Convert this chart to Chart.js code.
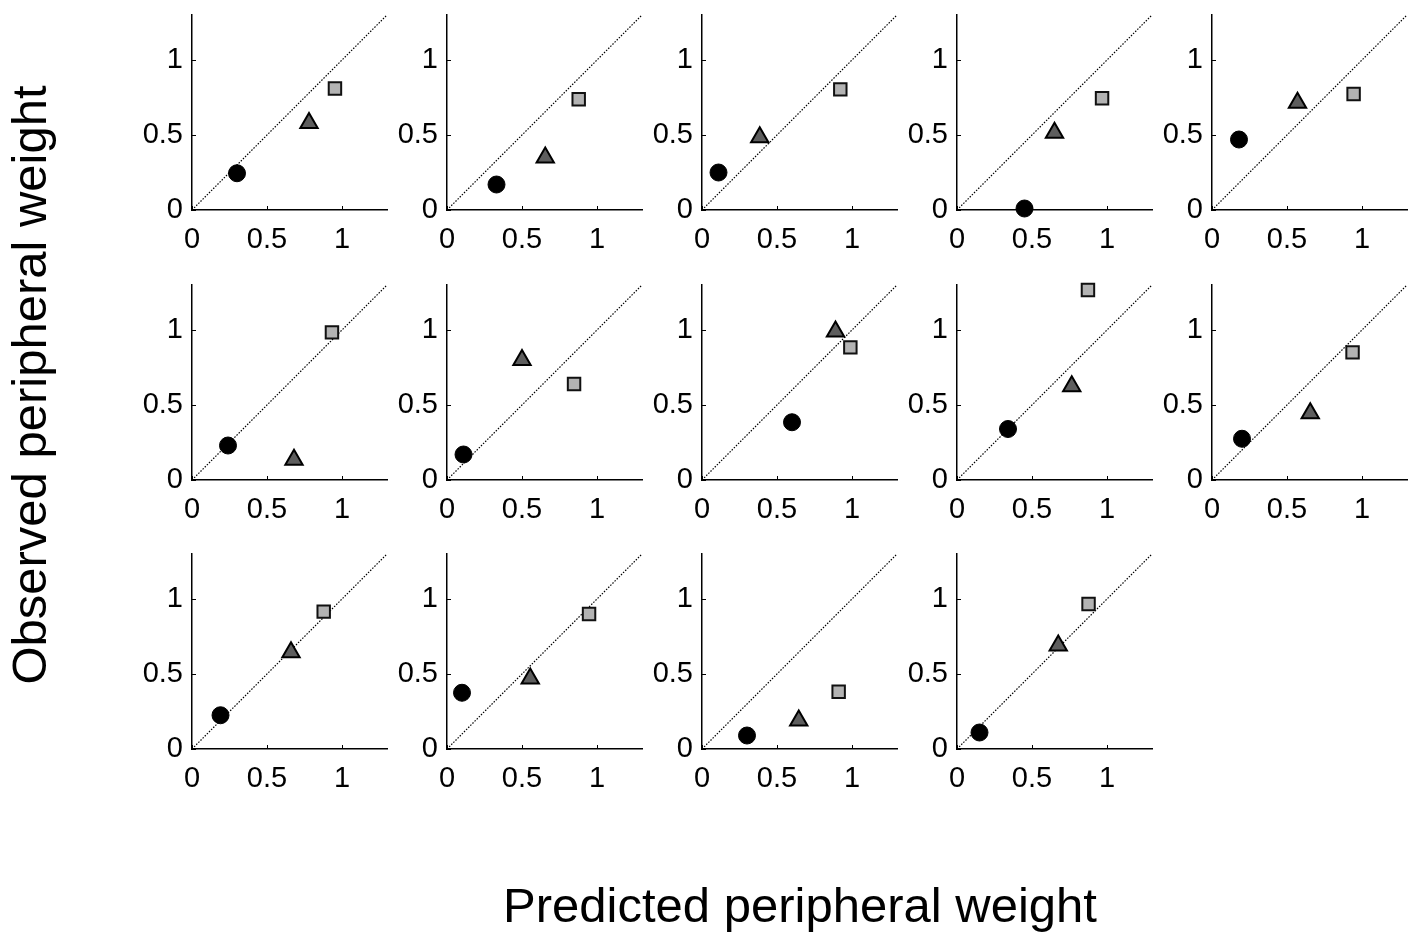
<!DOCTYPE html>
<html><head><meta charset="utf-8">
<script src="https://cdn.jsdelivr.net/npm/chart.js@4.4.0/dist/chart.umd.min.js"></script>
<style>
html,body{margin:0;padding:0;background:#fff;overflow:hidden;width:1413px;height:932px;position:relative;}
canvas{position:absolute;}
.title{position:absolute;font-family:'Liberation Sans',Arial,sans-serif;font-size:49px;line-height:49px;color:#000;white-space:nowrap;}
</style></head><body>
<div id="xt" class="title">Predicted peripheral weight</div>
<div id="yt" class="title">Observed peripheral weight</div>
<script>
// ---- data (one entry per panel, panels ordered left-to-right, top-to-bottom) ----
const circleX   = [0.30, 0.33, 0.11, 0.45, 0.18, 0.24, 0.11, 0.60, 0.34, 0.20, 0.19, 0.10, 0.30, 0.15];
const circleY   = [0.245, 0.17, 0.25, 0.01, 0.47, 0.23, 0.17, 0.385, 0.34, 0.275, 0.225, 0.375, 0.09, 0.11];
const triangleX = [0.78, 0.655, 0.385, 0.65, 0.57, 0.68, 0.50, 0.89, 0.765, 0.655, 0.66, 0.555, 0.645, 0.675];
const triangleY = [0.58, 0.35, 0.485, 0.515, 0.715, 0.135, 0.80, 0.99, 0.625, 0.445, 0.645, 0.47, 0.19, 0.69];
const squareX   = [0.953, 0.878, 0.922, 0.967, 0.944, 0.933, 0.847, 0.989, 0.873, 0.937, 0.878, 0.947, 0.911, 0.877];
const squareY   = [0.81, 0.738, 0.804, 0.745, 0.773, 0.984, 0.64, 0.884, 1.267, 0.851, 0.916, 0.90, 0.382, 0.967];
const diagonalX = [0, 1.3];
const diagonalY = [0, 1.3];
const tickValues = [0, 0.5, 1];
const tickLabels = ['0', '0.5', '1'];
const axisMin = 0, axisMax = 1.3;
const xTitle = 'Predicted peripheral weight';
const yTitle = 'Observed peripheral weight';

// ---- layout ----
const nCols = 5;
const colLeft0 = 192.3, colStep = 254.85, rowTop0 = 15, rowStep = 269.5, areaSize = 195;
const yAxisW = 62, padT = 15, padR = 5, xAxisH = 55;
const FONT = "'Liberation Sans', Arial, sans-serif";

Chart.defaults.font.family = FONT;
Chart.defaults.color = '#000';

const inwardTicks = {
  id: 'inwardTicks',
  beforeDatasetsDraw(chart) {
    const ctx = chart.ctx, a = chart.chartArea;
    const xs = chart.scales.x, ys = chart.scales.y;
    ctx.save();
    ctx.strokeStyle = '#000';
    ctx.lineWidth = 1;
    ctx.beginPath();
    tickValues.forEach(v => {
      const px = Math.round(xs.getPixelForValue(v)) + 0.5;
      ctx.moveTo(px, a.bottom); ctx.lineTo(px, a.bottom - 4);
      const py = Math.round(ys.getPixelForValue(v)) + 0.5;
      ctx.moveTo(a.left, py); ctx.lineTo(a.left + 4, py);
    });
    ctx.stroke();
    ctx.restore();
  }
};

function zeroPadding(s) { s.paddingTop = 0; s.paddingBottom = 0; s.paddingLeft = 0; s.paddingRight = 0; }
function pts(xs, ys, i) { return [{x: xs[i], y: ys[i]}]; }

for (let i = 0; i < circleX.length; i++) {
  const col = i % nCols, row = Math.floor(i / nCols);
  const areaLeft = Math.round(colLeft0 + col * colStep);
  const areaTop = Math.round(rowTop0 + row * rowStep);
  const cv = document.createElement('canvas');
  const W = yAxisW + areaSize + padR, H = padT + areaSize + xAxisH;
  cv.width = W; cv.height = H;
  cv.style.left = (areaLeft - yAxisW) + 'px';
  cv.style.top = (areaTop - padT) + 'px';
  cv.style.width = W + 'px'; cv.style.height = H + 'px';
  document.body.appendChild(cv);

  const scaleCommon = {
    type: 'linear', min: axisMin, max: axisMax,
    afterBuildTicks: s => { s.ticks = tickValues.map(v => ({value: v})); },
    grid: {display: false, drawTicks: false},
    border: {display: true, color: '#000', width: 1.5},
    ticks: {color: '#000', font: {size: 29, family: FONT}, autoSkip: false, maxRotation: 0,
            callback: v => tickLabels[tickValues.indexOf(v)]}
  };

  new Chart(cv, {
    type: 'scatter',
    data: {
      datasets: [
        {label: 'circle', data: pts(circleX, circleY, i), pointStyle: 'circle', pointRadius: 8.5,
         backgroundColor: '#000', borderColor: '#000', borderWidth: 1, clip: false},
        {label: 'triangle', data: pts(triangleX, triangleY, i), pointStyle: 'triangle', pointRadius: 10,
         backgroundColor: '#5e5e5e', borderColor: '#000', borderWidth: 2, clip: false},
        {label: 'square', data: pts(squareX, squareY, i), pointStyle: 'rect', pointRadius: 8.8,
         backgroundColor: '#b3b3b3', borderColor: '#111', borderWidth: 2, clip: false},
        {type: 'line', label: 'diagonal', data: diagonalX.map((x, k) => ({x, y: diagonalY[k]})),
         borderColor: '#000', borderWidth: 1.2, borderDash: [1.5, 1.5], pointRadius: 0, fill: false, clip: false}
      ]
    },
    options: {
      responsive: false, animation: false, devicePixelRatio: 1,
      layout: {autoPadding: false, padding: {top: padT, right: padR, left: 0, bottom: 0}},
      plugins: {legend: {display: false}, tooltip: {enabled: false}},
      scales: {
        x: Object.assign({}, scaleCommon, {
          afterFit: s => { s.height = xAxisH; zeroPadding(s); },
          ticks: Object.assign({}, scaleCommon.ticks, {padding: 13})
        }),
        y: Object.assign({}, scaleCommon, {
          afterFit: s => { s.width = yAxisW; zeroPadding(s); },
          ticks: Object.assign({}, scaleCommon.ticks, {padding: 9})
        })
      }
    },
    plugins: [inwardTicks]
  });
}

const xt = document.getElementById('xt');
xt.textContent = xTitle;
xt.style.left = '800px'; xt.style.top = '881px';
xt.style.transform = 'translateX(-50%)';
const yt = document.getElementById('yt');
yt.textContent = yTitle;
yt.style.left = '28.5px'; yt.style.top = '385px';
yt.style.transform = 'translate(-50%, -50%) rotate(-90deg)';
</script>
</body></html>
